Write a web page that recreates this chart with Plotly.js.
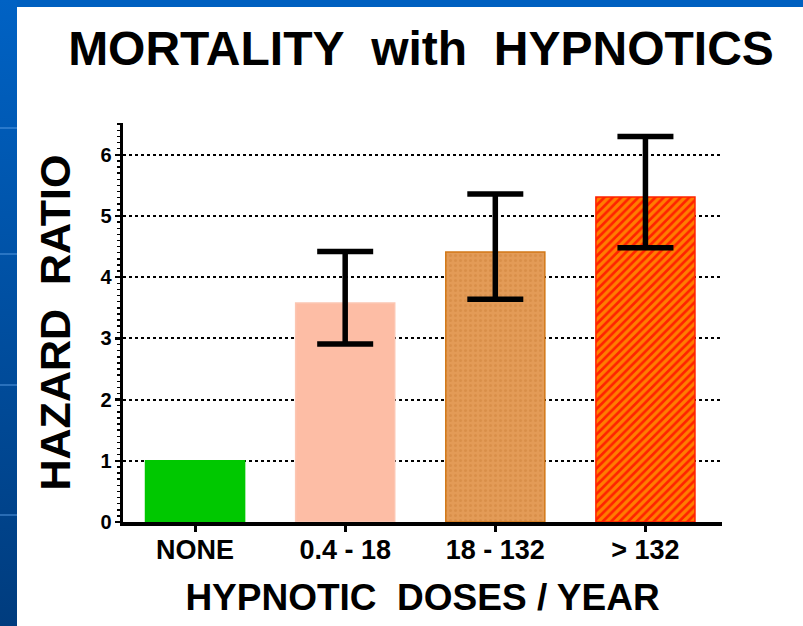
<!DOCTYPE html>
<html>
<head>
<meta charset="utf-8">
<script src="https://cdn.plot.ly/plotly-3.0.1.min.js"></script>
<style>
  html, body { margin: 0; padding: 0; }
  #frame { position: relative; width: 803px; height: 626px; overflow: hidden;
           background: #0060c0; }
  #leftstrip { position: absolute; left: 0; top: 0; width: 17px; height: 626px;
               background: linear-gradient(to bottom, #0062c4, #003c7e); }
  .seam { position: absolute; left: 0; width: 17px; height: 2px; background: rgba(90,160,230,0.45); }
  #chart { position: absolute; left: 17px; top: 7px; width: 786px; height: 619px; }
</style>
</head>
<body>
<div id="frame">
  <div id="leftstrip"></div>
  <div class="seam" style="top:127px"></div>
  <div class="seam" style="top:253px"></div>
  <div class="seam" style="top:384px"></div>
  <div class="seam" style="top:514px"></div>
  <div id="chart"></div>
</div>
<script>
// ---- data ----
var categories = ["NONE", "0.4 - 18", "18 - 132", "> 132"];
var hazardRatio = [1.0, 3.58, 4.41, 5.31];
var errCategories = ["0.4 - 18", "18 - 132", "> 132"];
var errValues = [3.58, 4.41, 5.31];
var errPlus = [0.84, 0.95, 0.99];
var errMinus = [0.67, 0.77, 0.83];
var yTicks = [0, 1, 2, 3, 4, 5, 6];

// ---- styles (one per bar) ----
var barStyles = [
  { color: "#00c800", line: "#00c800", shape: "", fg: "#00c800" },
  { color: "#fdbda5", line: "#fcc6b2", shape: "", fg: "#fdbda5" },
  { color: "#e39b57", line: "#d27818", shape: ".", fg: "#cf843c" },
  { color: "#ff2200", line: "#ff2200", shape: "/", fg: "#ffd800" }
];
var patternSize = [8, 8, 5, 6];
var patternSolidity = [0.3, 0.3, 0.3, 0.55];

var traces = [];
for (var i = 0; i < categories.length; i++) {
  var s = barStyles[i];
  traces.push({
    type: "bar",
    x: [categories[i]],
    y: [hazardRatio[i]],
    width: 0.66,
    marker: {
      color: s.color,
      line: { color: s.line, width: 1.5 },
      pattern: {
        shape: s.shape,
        fillmode: "overlay",
        fgcolor: s.fg,
        size: patternSize[i],
        solidity: patternSolidity[i]
      }
    },
    showlegend: false
  });
}

traces.push({
  type: "scatter",
  mode: "markers",
  x: errCategories,
  y: errValues,
  marker: { size: 1, color: "rgba(0,0,0,0)" },
  error_y: {
    type: "data",
    symmetric: false,
    array: errPlus,
    arrayminus: errMinus,
    color: "#000000",
    thickness: 5.5,
    width: 28
  },
  showlegend: false,
  hoverinfo: "skip"
});

var layout = {
  width: 786,
  height: 619,
  barmode: "overlay",
  margin: { l: 106, r: 81, t: 116, b: 104, pad: 0 },
  paper_bgcolor: "#ffffff",
  plot_bgcolor: "#ffffff",
  font: { family: "Liberation Sans, Arial, sans-serif", color: "#000000" },
  title: {
    text: "MORTALITY&nbsp; with&nbsp; HYPNOTICS",
    font: { size: 48, weight: "bold", family: "Liberation Sans, Arial, sans-serif", color: "#000" },
    x: 0.514, xref: "container", xanchor: "center",
    y: 0.934, yref: "container", yanchor: "middle"
  },
  xaxis: {
    type: "category",
    categoryorder: "array",
    categoryarray: categories,
    range: [-0.48, 3.51],
    showline: true, linecolor: "#000", linewidth: 3.5,
    ticks: "outside", ticklen: 6, tickwidth: 3, tickcolor: "#000",
    ticklabelstandoff: -5,
    showgrid: false, zeroline: false,
    tickfont: { size: 27, weight: "bold" },
    title: { text: "HYPNOTIC&nbsp; DOSES / YEAR", font: { size: 37, weight: "bold" }, standoff: 21 },
    fixedrange: true
  },
  yaxis: {
    range: [0, 6.52],
    tickvals: yTicks,
    showline: true, linecolor: "#000", linewidth: 3.5,
    ticks: "outside", ticklen: 5, tickwidth: 2.5, tickcolor: "#000",
    minor: { dtick: 0.1, ticks: "outside", ticklen: 3, tickwidth: 1.5, tickcolor: "#000", showgrid: false },
    showgrid: true, gridcolor: "#000", gridwidth: 2, griddash: "dot",
    zeroline: false,
    tickfont: { size: 20, weight: "bold" },
    ticklabelstandoff: -1,
    title: { text: "HAZARD&nbsp; RATIO", font: { size: 43, weight: "bold" }, standoff: 17 },
    fixedrange: true
  },
  showlegend: false
};

Plotly.newPlot("chart", traces, layout, { displayModeBar: false, staticPlot: true });
</script>
</body>
</html>
